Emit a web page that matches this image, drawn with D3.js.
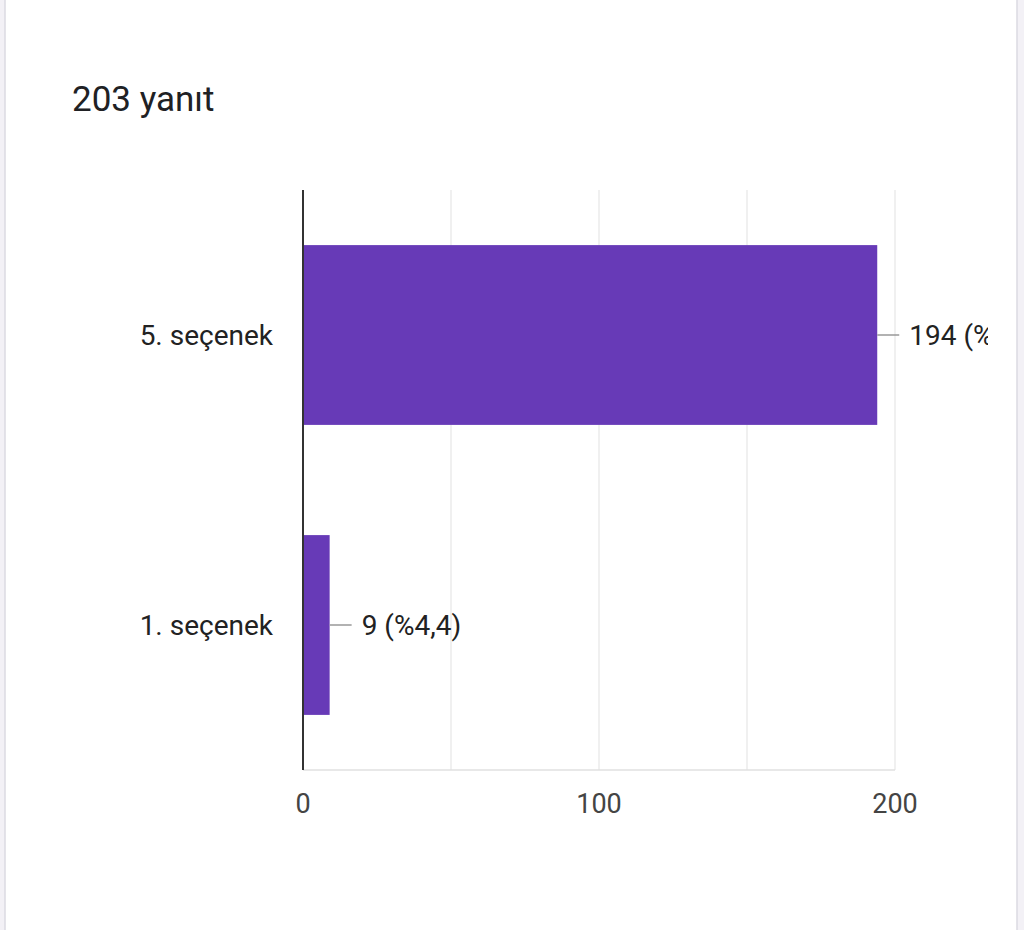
<!DOCTYPE html><html><head><meta charset="utf-8">
<script src="https://cdn.jsdelivr.net/npm/d3@7"></script>
<style>body{margin:0;background:#f3f1f6;}svg{display:block}</style></head><body>
<svg id="c" width="1024" height="930"></svg>
<script>
const categories=["5. seçenek","1. seçenek"];
const values=[194,9];
const valueLabels=["194 (%95,6)","9 (%4,4)"];
const tickValues=[0,100,200];
const title="203 yanıt";
const svg=d3.select("#c");
const font="Roboto, sans-serif";
svg.append("rect").attr("x",5).attr("y",-20).attr("width",1012).attr("height",980).attr("rx",18).attr("fill","#fff").attr("stroke","#dcdae2").attr("stroke-width",1.5);
svg.append("text").attr("x",72).attr("y",111).attr("font-family",font).attr("font-size",35).attr("fill","#202124").text(title);
const x=d3.scaleLinear().domain([0,200]).range([303,895]);
const y=d3.scaleBand().domain(categories).range([190,770]).paddingInner(0.38).paddingOuter(0.19);
const g=svg.append("g");
g.append("defs").append("clipPath").attr("id","cl").append("rect").attr("x",0).attr("y",0).attr("width",988).attr("height",930);
d3.range(0,201,50).slice(1).forEach(v=>g.append("line").attr("x1",x(v)).attr("x2",x(v)).attr("y1",190).attr("y2",770).attr("stroke","#ebebeb").attr("stroke-width",1.5));
g.append("line").attr("x1",303).attr("x2",895).attr("y1",770).attr("y2",770).attr("stroke","#e0e0e0").attr("stroke-width",1.5);
tickValues.forEach(v=>g.append("text").attr("x",x(v)).attr("y",813).attr("text-anchor","middle").attr("font-family",font).attr("font-size",27).attr("fill","#444").text(v));
categories.forEach((c,i)=>{
 const yy=y(c),h=y.bandwidth();
 g.append("rect").attr("x",x(0)).attr("y",yy).attr("width",x(values[i])-x(0)).attr("height",h).attr("fill","#673ab7");
 g.append("text").attr("x",273).attr("y",yy+h/2+10).attr("text-anchor","end").attr("font-family",font).attr("font-size",28).attr("fill","#222").text(c);
 const xe=x(values[i]);
 g.append("line").attr("x1",xe).attr("x2",xe+22).attr("y1",yy+h/2).attr("y2",yy+h/2).attr("stroke","#999").attr("stroke-width",1.5);
 g.append("text").attr("x",xe+32).attr("y",yy+h/2+10).attr("clip-path","url(#cl)").attr("font-family",font).attr("font-size",28).attr("fill","#222").text(valueLabels[i]);
});
g.append("line").attr("x1",303).attr("x2",303).attr("y1",190).attr("y2",770).attr("stroke","#333").attr("stroke-width",2);
</script></body></html>
